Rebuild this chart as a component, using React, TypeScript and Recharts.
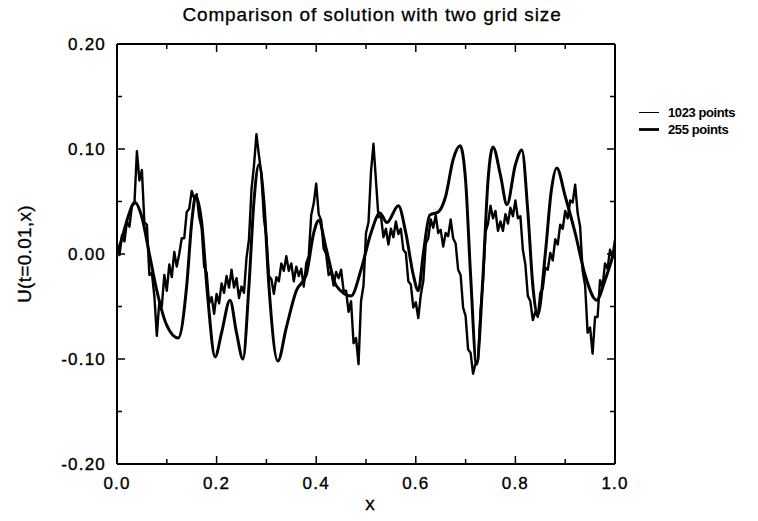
import React from 'react';
import { LineChart, Line, XAxis, YAxis, Legend, Label } from 'recharts';

const TITLE = 'Comparison of solution with two grid size';
const X_LABEL = 'x';
const Y_LABEL = 'U(t=0.01,x)';
const SERIES_NAMES = ['1023 points', '255 points'];

const X_TICKS = [0, 0.1, 0.2, 0.3, 0.4, 0.5, 0.6, 0.7, 0.8, 0.9, 1.0];
const Y_TICKS = [-0.2, -0.15, -0.1, -0.05, 0, 0.05, 0.1, 0.15, 0.2];

// 1023-point solution (noisy)
const X_1023 = [
  0, 0.005, 0.01, 0.015, 0.02, 0.025, 0.03, 0.035, 0.04, 0.045,
  0.05, 0.055, 0.06, 0.065, 0.07, 0.075, 0.08, 0.085, 0.09, 0.095,
  0.1, 0.105, 0.11, 0.115, 0.12, 0.125, 0.13, 0.135, 0.14, 0.145,
  0.15, 0.155, 0.16, 0.165, 0.17, 0.175, 0.18, 0.185, 0.19, 0.195,
  0.2, 0.205, 0.21, 0.215, 0.22, 0.225, 0.23, 0.235, 0.24, 0.245,
  0.25, 0.255, 0.26, 0.265, 0.27, 0.275, 0.28, 0.285, 0.29, 0.295,
  0.3, 0.305, 0.31, 0.315, 0.32, 0.325, 0.33, 0.335, 0.34, 0.345,
  0.35, 0.355, 0.36, 0.365, 0.37, 0.375, 0.38, 0.385, 0.39, 0.395,
  0.4, 0.405, 0.41, 0.415, 0.42, 0.425, 0.43, 0.435, 0.44, 0.445,
  0.45, 0.455, 0.46, 0.465, 0.47, 0.475, 0.48, 0.485, 0.49, 0.495,
  0.5, 0.505, 0.51, 0.515, 0.52, 0.525, 0.53, 0.535, 0.54, 0.545,
  0.55, 0.555, 0.56, 0.565, 0.57, 0.575, 0.58, 0.585, 0.59, 0.595,
  0.6, 0.605, 0.61, 0.615, 0.62, 0.625, 0.63, 0.635, 0.64, 0.645,
  0.65, 0.655, 0.66, 0.665, 0.67, 0.675, 0.68, 0.685, 0.69, 0.695,
  0.7, 0.705, 0.71, 0.715, 0.72, 0.725, 0.73, 0.735, 0.74, 0.745,
  0.75, 0.755, 0.76, 0.765, 0.77, 0.775, 0.78, 0.785, 0.79, 0.795,
  0.8, 0.805, 0.81, 0.815, 0.82, 0.825, 0.83, 0.835, 0.84, 0.845,
  0.85, 0.855, 0.86, 0.865, 0.87, 0.875, 0.88, 0.885, 0.89, 0.895,
  0.9, 0.905, 0.91, 0.915, 0.92, 0.925, 0.93, 0.935, 0.94, 0.945,
  0.95, 0.955, 0.96, 0.965, 0.97, 0.975, 0.98, 0.985, 0.99, 0.995,
  1.0,
];
const U_1023 = [
  0.006, -0.001, 0.018, 0.012, 0.031, 0.026, 0.046, 0.048, 0.098, 0.070,
  0.080, 0.030, 0.028, -0.020, -0.018, -0.040, -0.078, -0.045, -0.050, -0.020,
  -0.035, -0.010, -0.022, 0.002, -0.012, 0.000, 0.015, 0.015, 0.040, 0.043,
  0.060, 0.053, 0.057, 0.035, 0.025, -0.012, -0.018, -0.047, -0.041, -0.057,
  -0.038, -0.047, -0.028, -0.037, -0.021, -0.032, -0.015, -0.032, -0.023, -0.042,
  -0.031, -0.037, -0.004, 0.014, 0.061, 0.084, 0.114, 0.094, 0.076, 0.034,
  0.016, -0.021, -0.024, -0.038, -0.022, -0.026, -0.009, -0.016, -0.002, -0.016,
  -0.009, -0.026, -0.012, -0.021, -0.014, -0.031, -0.009, -0.002, 0.037, 0.048,
  0.067, 0.038, 0.032, 0.005, 0.000, -0.020, -0.017, -0.030, -0.017, -0.023,
  -0.015, -0.035, -0.035, -0.055, -0.045, -0.085, -0.080, -0.105, -0.045, -0.030,
  0.020, 0.030, 0.078, 0.105, 0.070, 0.035, 0.036, 0.016, 0.024, 0.009,
  0.024, 0.016, 0.031, 0.019, 0.024, 0.004, 0.001, -0.026, -0.029, -0.051,
  -0.046, -0.061, -0.039, -0.026, 0.010, 0.015, 0.033, 0.025, 0.037, 0.020,
  0.023, 0.007, 0.020, 0.017, 0.033, 0.015, 0.010, -0.015, -0.020, -0.051,
  -0.059, -0.091, -0.094, -0.114, -0.104, -0.101, -0.054, -0.026, 0.021, 0.029,
  0.046, 0.034, 0.041, 0.022, 0.031, 0.022, 0.038, 0.029, 0.044, 0.036,
  0.051, 0.034, 0.036, 0.004, -0.010, -0.040, -0.045, -0.063, -0.055, -0.060,
  -0.037, -0.033, -0.013, -0.015, 0.001, -0.006, 0.014, 0.009, 0.028, 0.024,
  0.041, 0.034, 0.051, 0.049, 0.066, 0.039, 0.026, -0.016, -0.030, -0.075,
  -0.070, -0.095, -0.060, -0.060, -0.025, -0.031, -0.009, -0.014, 0.004, -0.003,
  0.014,
];

// 255-point solution (smooth)
const X_255 = [
  0, 0.01, 0.02, 0.036, 0.05, 0.065, 0.08, 0.1, 0.123, 0.14,
  0.15, 0.158, 0.17, 0.182, 0.197, 0.21, 0.227, 0.24, 0.253, 0.265,
  0.275, 0.285, 0.295, 0.305, 0.323, 0.34, 0.36, 0.38, 0.395, 0.405,
  0.42, 0.44, 0.47, 0.49, 0.51, 0.528, 0.542, 0.565, 0.58, 0.595,
  0.605, 0.615, 0.628, 0.645, 0.66, 0.675, 0.689, 0.7, 0.71, 0.722,
  0.735, 0.745, 0.755, 0.77, 0.783, 0.8, 0.813, 0.825, 0.835, 0.845,
  0.86, 0.872, 0.883, 0.9, 0.92, 0.94, 0.963, 0.98, 1.0,
];
const U_255 = [
  0.000, 0.015, 0.032, 0.049, 0.035, 0.000, -0.035, -0.068, -0.080, -0.030,
  0.030, 0.055, 0.030, -0.040, -0.098, -0.075, -0.044, -0.075, -0.100, -0.030,
  0.050, 0.085, 0.050, -0.030, -0.102, -0.070, -0.035, -0.020, 0.020, 0.032,
  0.005, -0.030, -0.040, -0.015, 0.020, 0.039, 0.030, 0.046, 0.020, -0.020,
  -0.035, 0.000, 0.037, 0.040, 0.055, 0.090, 0.103, 0.070, -0.020, -0.105,
  -0.020, 0.070, 0.102, 0.075, 0.047, 0.085, 0.099, 0.040, -0.030, -0.058,
  0.000, 0.060, 0.082, 0.055, 0.020, -0.020, -0.044, -0.025, 0.005,
];

const data1023 = X_1023.map((x, i) => ({ x, u: U_1023[i] }));
const data255 = X_255.map((x, i) => ({ x, u: U_255[i] }));

const FONT = '"Liberation Sans", Arial, Helvetica, sans-serif';
const INK = '#000';

const BottomTick = (props: any) => {
  const { x, y, payload } = props;
  const v = payload.value;
  const major = Math.round(v * 10) % 2 === 0;
  return (
    <g>
      <line x1={x} x2={x} y1={y} y2={y - (major ? 8 : 5)} stroke={INK} strokeWidth={1.5} />
      {major && (
        <text x={x} y={y + 25} textAnchor="middle" fontFamily={FONT} fontSize={17} letterSpacing={1.2} fill={INK} stroke={INK} strokeWidth={0.35}>
          {v.toFixed(1)}
        </text>
      )}
    </g>
  );
};

const TopTick = (props: any) => {
  const { x, y, payload } = props;
  const major = Math.round(payload.value * 10) % 2 === 0;
  return <line x1={x} x2={x} y1={y} y2={y + (major ? 8 : 5)} stroke={INK} strokeWidth={1.5} />;
};

const LeftTick = (props: any) => {
  const { x, y, payload } = props;
  const v = payload.value;
  const major = Math.round(v * 100) % 10 === 0;
  return (
    <g>
      <line x1={x} x2={x + (major ? 8 : 5)} y1={y} y2={y} stroke={INK} strokeWidth={1.5} />
      {major && (
        <text x={x - 11} y={y + 6} textAnchor="end" fontFamily={FONT} fontSize={17} letterSpacing={1.2} fill={INK} stroke={INK} strokeWidth={0.35}>
          {v.toFixed(2)}
        </text>
      )}
    </g>
  );
};

const RightTick = (props: any) => {
  const { x, y, payload } = props;
  const major = Math.round(payload.value * 100) % 10 === 0;
  return <line x1={x} x2={x - (major ? 8 : 5)} y1={y} y2={y} stroke={INK} strokeWidth={1.5} />;
};

const TitleLabel = (props: any) => {
  const vb = props.viewBox || {};
  return (
    <text x={vb.x + vb.width / 2 + 6} y={vb.y - 18} textAnchor="middle" fontFamily={FONT} fontSize={19} letterSpacing={0.85} fill={INK} stroke={INK} strokeWidth={0.3}>
      {TITLE}
    </text>
  );
};

const XLabel = (props: any) => {
  const vb = props.viewBox || {};
  return (
    <text x={vb.x + vb.width / 2 + 4} y={vb.y + 46} textAnchor="middle" fontFamily={FONT} fontSize={19} fill={INK} stroke={INK} strokeWidth={0.3}>
      {X_LABEL}
    </text>
  );
};

const YLabel = (props: any) => {
  const vb = props.viewBox || {};
  const cx = vb.x - 33;
  const cy = vb.y + vb.height / 2;
  return (
    <text x={cx} y={cy} transform={`rotate(-90, ${cx}, ${cy})`} textAnchor="middle" dominantBaseline="central" fontFamily={FONT} fontSize={19} letterSpacing={0.3} fill={INK} stroke={INK} strokeWidth={0.3}>
      {Y_LABEL}
    </text>
  );
};

const LEGEND_WIDTHS = [1, 2.8];

const LegendBox = () => (
  <div style={{ position: 'relative', width: 120, height: 36, fontFamily: FONT, fontWeight: 'bold', fontSize: 13, color: INK }}>
    {SERIES_NAMES.map((name, i) => (
      <div key={name} style={{ position: 'absolute', left: 0, top: i * 17, height: 17, display: 'flex', alignItems: 'center', whiteSpace: 'nowrap' }}>
        <svg width={22} height={17} style={{ display: 'block' }}>
          <line x1={1} x2={21} y1={8.5} y2={8.5} stroke={INK} strokeWidth={LEGEND_WIDTHS[i]} />
        </svg>
        <span style={{ marginLeft: 8, letterSpacing: -0.4 }}>{name}</span>
      </div>
    ))}
  </div>
);

export default function App() {
  return (
    <div style={{ margin: -8, width: 758, height: 521, background: '#fff' }}>
      <LineChart width={758} height={521} margin={{ top: 39, right: 133, bottom: 27, left: 57 }}>
        <XAxis
          xAxisId="b"
          type="number"
          dataKey="x"
          domain={[0, 1]}
          ticks={X_TICKS}
          interval={0}
          allowDataOverflow
          tickSize={0}
          tickMargin={0}
          tickLine={false}
          tick={<BottomTick />}
          axisLine={{ stroke: INK, strokeWidth: 2 }}
          height={30}
        >
          <Label content={<XLabel />} />
        </XAxis>
        <XAxis
          xAxisId="t"
          orientation="top"
          type="number"
          dataKey="x"
          domain={[0, 1]}
          ticks={X_TICKS}
          interval={0}
          allowDataOverflow
          tickSize={0}
          tickMargin={0}
          tickLine={false}
          tick={<TopTick />}
          axisLine={{ stroke: INK, strokeWidth: 2 }}
          height={5}
        >
          <Label content={<TitleLabel />} />
        </XAxis>
        <YAxis
          yAxisId="l"
          type="number"
          domain={[-0.2, 0.2]}
          ticks={Y_TICKS}
          interval={0}
          allowDataOverflow
          tickSize={0}
          tickMargin={0}
          tickLine={false}
          tick={<LeftTick />}
          axisLine={{ stroke: INK, strokeWidth: 2 }}
          width={60}
        >
          <Label content={<YLabel />} />
        </YAxis>
        <YAxis
          yAxisId="r"
          orientation="right"
          type="number"
          domain={[-0.2, 0.2]}
          ticks={Y_TICKS}
          interval={0}
          allowDataOverflow
          tickSize={0}
          tickMargin={0}
          tickLine={false}
          tick={<RightTick />}
          axisLine={{ stroke: INK, strokeWidth: 2 }}
          width={10}
        />
        <Legend
          layout="horizontal"
          verticalAlign="middle"
          align="center"
          content={<LegendBox />}
          wrapperStyle={{ left: 638, top: 104, width: 120 }}
        />
        <Line
          xAxisId="t"
          yAxisId="r"
          data={data255}
          dataKey="u"
          stroke="none"
          dot={false}
          legendType="none"
          isAnimationActive={false}
        />
        <Line
          xAxisId="b"
          yAxisId="l"
          name={SERIES_NAMES[0]}
          data={data1023}
          dataKey="u"
          type="linear"
          stroke={INK}
          strokeWidth={2.4}
          strokeLinejoin="round"
          dot={false}
          isAnimationActive={false}
        />
        <Line
          xAxisId="b"
          yAxisId="l"
          name={SERIES_NAMES[1]}
          data={data255}
          dataKey="u"
          type="monotone"
          stroke={INK}
          strokeWidth={3}
          dot={false}
          isAnimationActive={false}
        />
      </LineChart>
    </div>
  );
}
